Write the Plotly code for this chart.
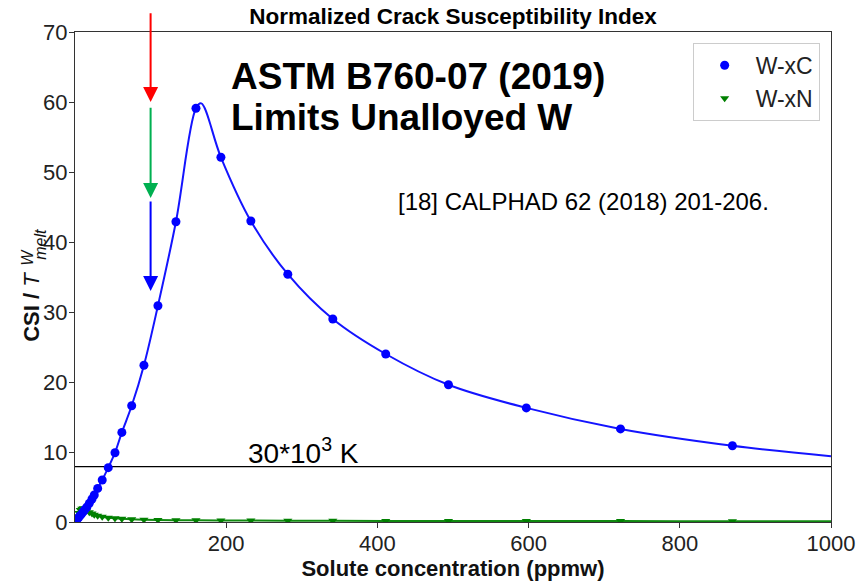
import plotly.graph_objects as go

# Solute concentrations (ppmw) of the computed compositions
conc = [3, 5, 7, 9, 11, 13, 15.5, 18.9, 22.5, 25.5, 30, 36, 44, 52.9, 62, 75,
        91.2, 109.7, 133.5, 160, 193, 232.6, 281.5, 341, 411, 494, 597, 721.6, 869.6]

# Normalized CSI for W-C
csi_c = [0.4, 0.67, 0.94, 1.2, 1.48, 1.76, 2.1, 2.67, 3.29, 3.86, 4.8, 6.0, 7.76, 9.9, 12.8, 16.6,
         22.4, 30.9, 42.9, 59.1, 52.1, 43.0, 35.4, 29.0, 24.0, 19.6, 16.3, 13.3, 10.9]

# Normalized CSI for W-N
csi_n = [0.8, 1.3, 1.7, 1.9, 1.95, 1.85, 1.65, 1.4, 1.2, 1.05, 0.9, 0.75, 0.62, 0.52, 0.45, 0.38,
         0.33, 0.29, 0.26, 0.24, 0.22, 0.2, 0.19, 0.17, 0.16, 0.15, 0.14, 0.13, 0.12]

# Smooth model curves
curve_c_x = [0, 3, 5, 7, 9, 11, 13, 15.5, 18.9, 22.5, 25.5, 30, 36, 44, 52.9, 62, 75,
             91.2, 109.7, 133.5, 160, 167, 193, 232.6, 281.5, 341, 411, 494, 597, 721.6, 869.6, 1000]
curve_c_y = [0, 0.4, 0.67, 0.94, 1.2, 1.48, 1.76, 2.1, 2.67, 3.29, 3.86, 4.8, 6.0, 7.76, 9.9, 12.8, 16.6,
             22.4, 30.9, 42.9, 59.1, 59.8, 52.1, 43.0, 35.4, 29.0, 24.0, 19.6, 16.3, 13.3, 10.9, 9.4]
curve_n_x = [0] + conc + [1000]
curve_n_y = [0] + csi_n + [0.11]

# Cracking threshold (30*10^3 K normalized by W melting point)
threshold = 7.9

# ASTM B760-07 limit arrows at 100 ppmw: (start, tip) levels
limit_x = 100
arrow_levels = [(72.9, 60.0), (59.4, 46.3), (46.0, 33.0)]
arrow_colors = ["#ff0000", "#00b050", "#0000ff"]

FONT = "Liberation Sans, Arial, sans-serif"

fig = go.Figure()

fig.add_trace(go.Scatter(x=[0, 1000], y=[threshold, threshold], mode="lines",
                         line=dict(color="black", width=1.3), showlegend=False,
                         hoverinfo="skip"))
fig.add_trace(go.Scatter(x=curve_n_x, y=curve_n_y, mode="lines",
                         line=dict(color="#108a10", width=2, shape="spline"),
                         showlegend=False))
fig.add_trace(go.Scatter(x=curve_c_x, y=curve_c_y, mode="lines",
                         line=dict(color="#1414ff", width=2, shape="spline"),
                         showlegend=False))
fig.add_trace(go.Scatter(x=conc, y=csi_n, mode="markers", name="W-xN",
                         marker=dict(symbol="triangle-down", size=8, color="#008000"),
                         legendrank=2))
fig.add_trace(go.Scatter(x=conc, y=csi_c, mode="markers", name="W-xC",
                         marker=dict(symbol="circle", size=9, color="#0000ff"),
                         legendrank=1))

annotations = []
for (start, tip), col in zip(arrow_levels, arrow_colors):
    annotations.append(dict(x=limit_x, y=tip, ax=limit_x, ay=start, axref="x", ayref="y",
                            xref="x", yref="y", text="", showarrow=True, arrowhead=2,
                            arrowsize=1.5, arrowwidth=2, arrowcolor=col, standoff=0))

annotations += [
    dict(x=204, y=63.7, xref="x", yref="y", xanchor="left", yanchor="middle",
         text="<b>ASTM B760-07 (2019)</b>", showarrow=False,
         font=dict(family=FONT, size=37, color="black")),
    dict(x=204, y=57.8, xref="x", yref="y", xanchor="left", yanchor="middle",
         text="<b>Limits Unalloyed W</b>", showarrow=False,
         font=dict(family=FONT, size=37, color="black")),
    dict(x=424, y=45.8, xref="x", yref="y", xanchor="left", yanchor="middle",
         text="[18] CALPHAD 62 (2018) 201-206.", showarrow=False,
         font=dict(family=FONT, size=24, color="black")),
    dict(x=226, y=10.1, xref="x", yref="y", xanchor="left", yanchor="middle",
         text="30*10<sup>3</sup> K", showarrow=False,
         font=dict(family=FONT, size=28, color="black")),
    # y-axis title: CSI / T with stacked W superscript and melt subscript
    dict(x=-0.057, y=0.439, xref="paper", yref="paper", xanchor="center", yanchor="middle",
         text="<b>CSI / </b><i>T</i>", textangle=-90, showarrow=False,
         font=dict(family=FONT, size=22, color="#111")),
    dict(x=-0.0625, y=0.541, xref="paper", yref="paper", xanchor="center", yanchor="middle",
         text="<i>W</i>", textangle=-90, showarrow=False,
         font=dict(family=FONT, size=16, color="#111")),
    dict(x=-0.0455, y=0.567, xref="paper", yref="paper", xanchor="center", yanchor="middle",
         text="<i>melt</i>", textangle=-90, showarrow=False,
         font=dict(family=FONT, size=16, color="#111")),
]

fig.update_layout(
    width=859, height=581,
    margin=dict(l=75, r=28, t=32, b=59),
    paper_bgcolor="white", plot_bgcolor="white",
    font=dict(family=FONT, size=22, color="#222"),
    title=dict(text="<b>Normalized Crack Susceptibility Index</b>", x=0.5, xref="paper",
               y=1 - 16 / 581, yref="container", xanchor="center", yanchor="middle",
               font=dict(family=FONT, size=22.5, color="black")),
    legend=dict(x=0.985, y=0.978, xanchor="right", yanchor="top",
                bgcolor="white", bordercolor="#cccccc", borderwidth=1,
                font=dict(family=FONT, size=23, color="#222"),
                itemwidth=52, tracegroupgap=1),
    annotations=annotations,
    showlegend=True,
)

fig.update_xaxes(range=[0, 1000], tickvals=[200, 400, 600, 800, 1000],
                 ticks="outside", ticklen=5, tickcolor="#333", showgrid=False, zeroline=False,
                 showline=True, linecolor="#333", linewidth=1, mirror=True,
                 tickfont=dict(family=FONT, size=22, color="#222"), ticklabelstandoff=-3,
                 title=dict(text="<b>Solute concentration (ppmw)</b>", standoff=6,
                            font=dict(family=FONT, size=22, color="#111")),
                 automargin=False)
fig.update_yaxes(range=[0, 70], tickvals=[0, 10, 20, 30, 40, 50, 60, 70],
                 ticks="outside", ticklen=5, tickcolor="#333", showgrid=False, zeroline=False,
                 showline=True, linecolor="#333", linewidth=1, mirror=True,
                 tickfont=dict(family=FONT, size=22, color="#222"), ticklabelstandoff=-3,
                 automargin=False)

fig.write_html("out.html")
